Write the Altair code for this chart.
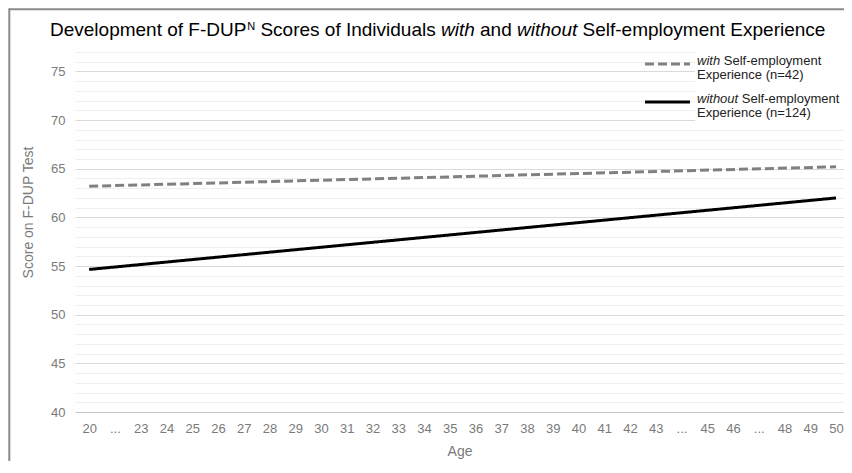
import altair as alt
import pandas as pd

# ---------------- data ----------------
ages = ["20", "gap1", "23", "24", "25", "26", "27", "28", "29", "30", "31", "32",
        "33", "34", "35", "36", "37", "38", "39", "40", "41", "42", "43", "gap2",
        "45", "46", "gap3", "48", "49", "50"]
series = ["with Self-employment Experience (n=42)",
          "without Self-employment Experience (n=124)"]
line_ages = ["20", "50"]
with_scores = [63.2, 65.2]
without_scores = [54.65, 62.0]
y_ticks = list(range(40, 78))

series_colors = ["#808080", "#000000"]
series_dashes = [[9, 4], [1, 0]]

df = pd.DataFrame({
    "Age": line_ages + line_ages,
    "Score": with_scores + without_scores,
    "Series": [series[0]] * 2 + [series[1]] * 2,
})

FONT = "Liberation Sans"
GRAY = "#7a7a7a"
W, H = 769, 360

# Arial / Liberation Sans advance widths (per 1000 em), for placing rich text pieces
ADV = {' ': 278, '(': 333, ')': 333, '-': 333, '=': 584, 'A': 667, 'D': 722, 'E': 667,
       'F': 611, 'I': 278, 'N': 722, 'P': 667, 'S': 667, 'T': 611, 'U': 722, 'a': 556,
       'c': 500, 'd': 556, 'e': 556, 'f': 278, 'g': 556, 'h': 556, 'i': 222, 'l': 222,
       'm': 833, 'n': 556, 'o': 556, 'p': 556, 'r': 333, 's': 500, 't': 278, 'u': 556,
       'v': 500, 'w': 722, 'x': 500, 'y': 500}


def tw(s, size):
    return sum(ADV.get(c, 556) for c in s) / 1000.0 * size


one = alt.Data(values=[{"k": 0}])


def text_piece(s, x, y, size, italic=False, color="#000000"):
    kw = dict(align="left", baseline="alphabetic", font=FONT, fontSize=size, color=color)
    if italic:
        kw["fontStyle"] = "italic"
    return alt.Chart(one).mark_text(**kw).encode(
        x=alt.value(x), y=alt.value(y), text=alt.value(s))


# ---------------- main lines ----------------
lines = alt.Chart(df).mark_line(strokeWidth=3).encode(
    x=alt.X("Age:O",
            scale=alt.Scale(type="point", domain=ages, padding=0.43, align=0.64),
            axis=alt.Axis(title="Age", labelAngle=0, ticks=False, domain=False, grid=False,
                          labelExpr="slice(datum.label, 0, 3) === 'gap' ? '...' : datum.label",
                          labelFont=FONT, labelFontSize=13, labelColor=GRAY, labelPadding=10,
                          titleFont=FONT, titleFontSize=14, titleColor=GRAY,
                          titleFontWeight="normal", titlePadding=9)),
    y=alt.Y("Score:Q",
            scale=alt.Scale(domain=[40, 77], nice=False, zero=False),
            axis=alt.Axis(title="Score on F-DUP Test", values=y_ticks, ticks=False,
                          domain=False, grid=True, labelOverlap=False,
                          labelExpr="datum.value % 5 === 0 ? datum.label : ''",
                          gridColor={"condition": [
                              {"test": "datum.value === 40", "value": "#c8c8c8"},
                              {"test": "datum.value % 5 === 0", "value": "#dadada"}],
                              "value": "#eeeeee"},
                          labelFont=FONT, labelFontSize=13, labelColor=GRAY, labelPadding=10,
                          titleFont=FONT, titleFontSize=14, titleColor=GRAY,
                          titleFontWeight="normal", titleX=-47, titleY=160,
                          titleAlign="center", titleBaseline="middle")),
    color=alt.Color("Series:N", scale=alt.Scale(domain=series, range=series_colors), legend=None),
    strokeDash=alt.StrokeDash("Series:N", scale=alt.Scale(domain=series, range=series_dashes),
                              legend=None),
)

layers = [lines]

# ---------------- custom legend ----------------
layers.append(alt.Chart(one).mark_rect(color="white").encode(
    x=alt.value(620), x2=alt.value(772), y=alt.value(-1), y2=alt.value(72)))
layers.append(alt.Chart(one).mark_rule(color=series_colors[0], strokeWidth=3,
                                       strokeDash=series_dashes[0]).encode(
    x=alt.value(570), x2=alt.value(615), y=alt.value(12)))
layers.append(alt.Chart(one).mark_rule(color=series_colors[1], strokeWidth=3).encode(
    x=alt.value(570), x2=alt.value(615), y=alt.value(50)))

LS = 13
LX = 622
LC = "#222222"
for word, base1, base2, rest in [("with", 13, 26.5, "Experience (n=42)"),
                                 ("without", 51, 64.5, "Experience (n=124)")]:
    layers.append(text_piece(word, LX, base1, LS, italic=True, color=LC))
    layers.append(text_piece("Self-employment", LX + tw(word + " ", LS), base1, LS, color=LC))
    layers.append(text_piece(rest, LX, base2, LS, color=LC))

# ---------------- rich title ----------------
TS = 19
tx = -25
ty = -16
pieces = [("Development of F-DUP", False, TS, 0, False),
          ("N", False, 11, -6, True),
          ("Scores of Individuals", False, TS, 0, True),
          ("with", True, TS, 0, True),
          ("and", False, TS, 0, True),
          ("without", True, TS, 0, True),
          ("Self-employment Experience", False, TS, 0, True)]
for s, it, size, dy, space_after in pieces:
    layers.append(text_piece(s, tx, ty + dy, size, italic=it))
    tx += tw(s, size) + (tw(" ", TS) if space_after else 0.8)

# ---------------- frame ----------------
layers.append(alt.Chart(one).mark_rule(color="#8a8a8a", strokeWidth=2).encode(
    x=alt.value(-65.7), x2=alt.value(790), y=alt.value(-42.7)))
layers.append(alt.Chart(one).mark_rule(color="#8a8a8a", strokeWidth=2).encode(
    x=alt.value(-65.7), y=alt.value(-43.7), y2=alt.value(420)))

chart = alt.layer(*layers).properties(
    width=W, height=H,
    padding={"left": 67, "top": 44, "right": 0, "bottom": 49},
    autosize=alt.AutoSizeParams(type="none"),
    background="white",
).configure_view(stroke=None)

chart.save("out.html", embed_options={"renderer": "svg", "actions": False})
